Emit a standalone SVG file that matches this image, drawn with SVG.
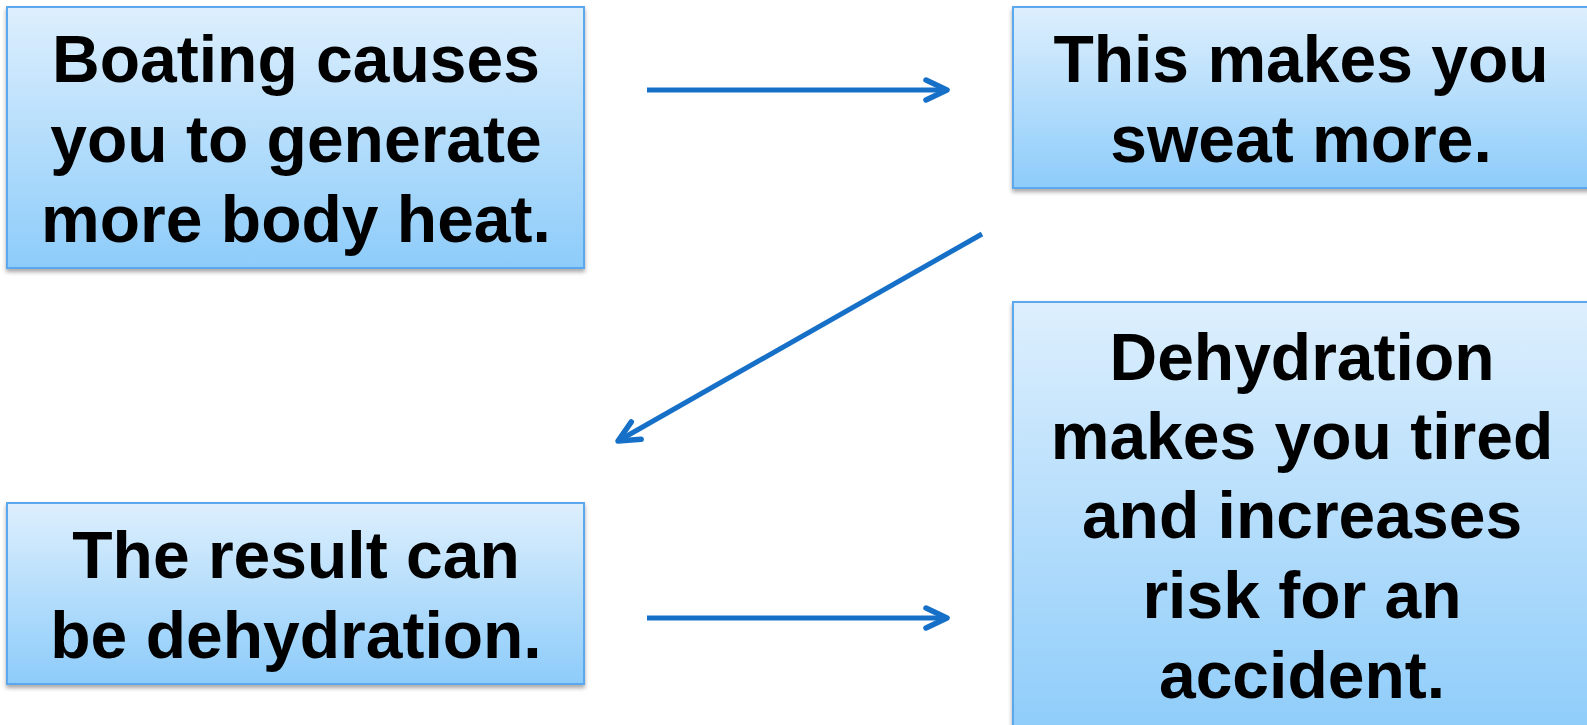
<svg xmlns="http://www.w3.org/2000/svg" width="1587" height="725" viewBox="0 0 1587 725">
<style>
.box{fill:url(#g);stroke:#5BA8EE;stroke-width:2;filter:url(#sh)}
.t{font-family:"Liberation Sans",Arial,sans-serif;font-weight:bold;font-size:66px;fill:#000;text-anchor:middle}
.c{fill:none;stroke:#1770C8;stroke-width:5;marker-end:url(#ah)}
</style>
<defs>
<linearGradient id="g" x1="0" y1="0" x2="0" y2="1">
<stop offset="0" stop-color="#DDEFFD"/>
<stop offset="1" stop-color="#8DCCFA"/>
</linearGradient>
<filter id="sh" x="-5%" y="-5%" width="110%" height="115%">
<feDropShadow dx="0" dy="3" stdDeviation="2" flood-color="#000" flood-opacity="0.35"/>
</filter>
<marker id="ah" markerUnits="userSpaceOnUse" viewBox="-28 -15 32 30" refX="0" refY="0" markerWidth="32" markerHeight="30" orient="auto">
<path d="M-21,-10 L0,0 L-21,10" fill="none" stroke="#1770C8" stroke-width="5.5" stroke-linecap="round" stroke-linejoin="round"/>
</marker>
</defs>
<rect width="1587" height="725" fill="#fff"/>
<g id="connectors">
<line class="c" x1="647" y1="90" x2="947" y2="90"/>
<line class="c" x1="982" y1="234" x2="618" y2="441"/>
<line class="c" x1="647" y1="618" x2="947" y2="618"/>
</g>
<g id="node1">
<rect class="box" x="7" y="7" width="577" height="261"/>
<text class="t" x="296" y="82">Boating causes</text>
<text class="t" x="296" y="162">you to generate</text>
<text class="t" x="296" y="242">more body heat.</text>
</g>
<g id="node2">
<rect class="box" x="1013" y="7" width="585" height="181"/>
<text class="t" x="1301" y="82">This makes you</text>
<text class="t" x="1301" y="162">sweat more.</text>
</g>
<g id="node3">
<rect class="box" x="7" y="503" width="577" height="181"/>
<text class="t" x="296" y="578">The result can</text>
<text class="t" x="296" y="658">be dehydration.</text>
</g>
<g id="node4">
<rect class="box" x="1013" y="302" width="585" height="440"/>
<text class="t" x="1302" y="380">Dehydration</text>
<text class="t" x="1302" y="459">makes you tired</text>
<text class="t" x="1302" y="538">and increases</text>
<text class="t" x="1302" y="618">risk for an</text>
<text class="t" x="1302" y="698">accident.</text>
</g>
</svg>
